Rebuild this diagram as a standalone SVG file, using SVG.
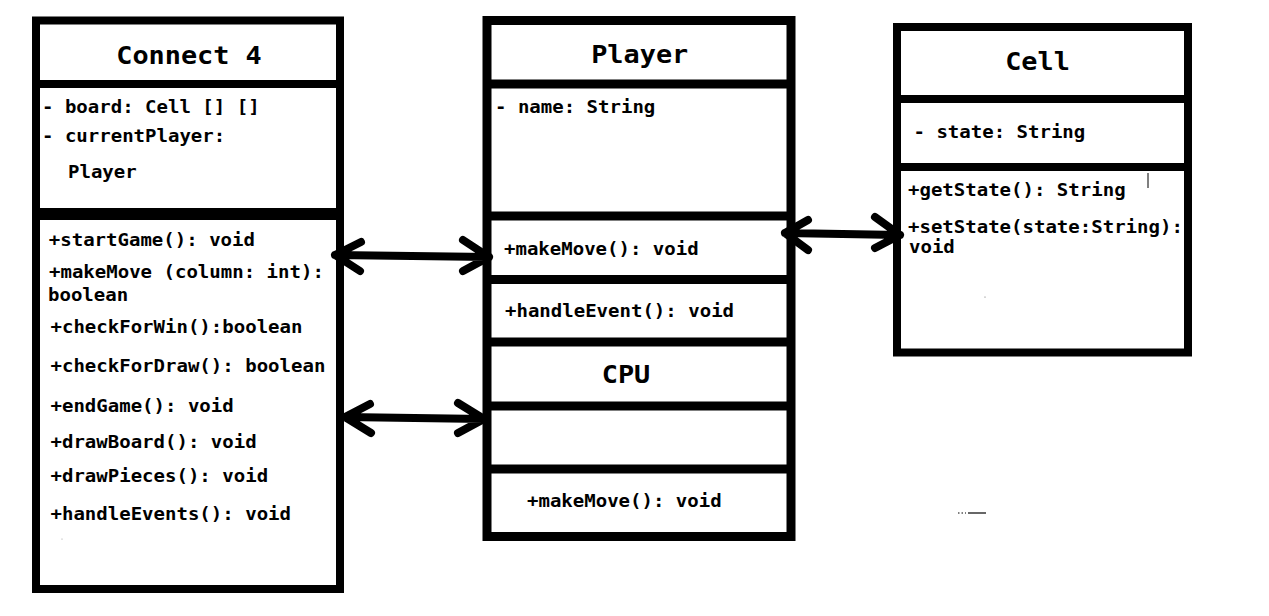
<svg xmlns="http://www.w3.org/2000/svg" width="1269" height="616" viewBox="0 0 1269 616">
<style>
.box{fill:#fff;stroke:#000;stroke-width:8}
.div{stroke:#000;stroke-width:9}
.t{font-family:"DejaVu Sans Mono","Liberation Mono",monospace;font-weight:bold;font-size:17px;fill:#000}
.h{font-family:"DejaVu Sans Mono","Liberation Mono",monospace;font-weight:bold;font-size:24px;fill:#000;text-anchor:middle}
.c{fill:none;stroke:#000;stroke-width:8;stroke-linecap:round;stroke-linejoin:round}
</style>
<rect width="1269" height="616" fill="#fff"/>
<g id="connect4">
<rect class="box" x="36" y="20.5" width="304" height="568.5"/>
<line class="div" x1="36" y1="84" x2="340" y2="84" style="stroke-width:8"/>
<line class="div" x1="36" y1="214" x2="340" y2="214" style="stroke-width:12"/>
<text class="h" transform="matrix(1.12 0 0 1 189 64)">Connect 4</text>
<text class="t" transform="matrix(1.12 0 0 1 42 113)">- board: Cell [] []</text>
<text class="t" transform="matrix(1.12 0 0 1 42 142)">- currentPlayer:</text>
<text class="t" transform="matrix(1.12 0 0 1 68 178)">Player</text>
<text class="t" transform="matrix(1.12 0 0 1 48.8 246)">+startGame(): void</text>
<text class="t" transform="matrix(1.12 0 0 1 49 278)">+makeMove (column: int):</text>
<text class="t" transform="matrix(1.12 0 0 1 48 301)">boolean</text>
<text class="t" transform="matrix(1.12 0 0 1 50.5 333)">+checkForWin():boolean</text>
<text class="t" transform="matrix(1.12 0 0 1 50.5 372)">+checkForDraw(): boolean</text>
<text class="t" transform="matrix(1.12 0 0 1 50.5 412)">+endGame(): void</text>
<text class="t" transform="matrix(1.12 0 0 1 50.5 448)">+drawBoard(): void</text>
<text class="t" transform="matrix(1.12 0 0 1 50.5 482)">+drawPieces(): void</text>
<text class="t" transform="matrix(1.12 0 0 1 50.5 520)">+handleEvents(): void</text>
<circle cx="62" cy="539" r="0.6" fill="#999"/>
</g>
<g id="player">
<rect class="box" x="487" y="20.5" width="304" height="516" style="stroke-width:9"/>
<line class="div" x1="487" y1="84" x2="791" y2="84"/>
<line class="div" x1="487" y1="216" x2="791" y2="216"/>
<line class="div" x1="487" y1="279.5" x2="791" y2="279.5"/>
<line class="div" x1="487" y1="342" x2="791" y2="342"/>
<text class="h" transform="matrix(1.12 0 0 1 639.7 63)">Player</text>
<text class="t" transform="matrix(1.12 0 0 1 495 113)">- name: String</text>
<text class="t" transform="matrix(1.12 0 0 1 504 255)">+makeMove(): void</text>
<text class="t" transform="matrix(1.12 0 0 1 505 317)">+handleEvent(): void</text>
</g>
<g id="cpu">
<line class="div" x1="487" y1="406" x2="791" y2="406"/>
<line class="div" x1="487" y1="469" x2="791" y2="469"/>
<text class="h" transform="matrix(1.12 0 0 1 626 383)">CPU</text>
<text class="t" transform="matrix(1.12 0 0 1 527 507)">+makeMove(): void</text>
</g>
<g id="cell">
<rect class="box" x="897" y="27" width="291" height="325.5"/>
<line class="div" x1="897" y1="99" x2="1188" y2="99" style="stroke-width:8"/>
<line class="div" x1="897" y1="167" x2="1188" y2="167" style="stroke-width:8"/>
<text class="h" transform="matrix(1.12 0 0 1 1037.5 70)">Cell</text>
<text class="t" transform="matrix(1.12 0 0 1 913.5 138)">- state: String</text>
<text class="t" transform="matrix(1.12 0 0 1 908 196)">+getState(): String</text>
<text class="t" transform="matrix(1.12 0 0 1 908 233)">+setState(state:String):</text>
<text class="t" transform="matrix(1.12 0 0 1 909 253)">void</text>
<line x1="1148" y1="173" x2="1148" y2="188" stroke="#000" stroke-width="1"/>
<circle cx="985" cy="297" r="0.6" fill="#666"/>
</g>
<g id="connectors">
<path class="c" d="M335 255 L489 257 M361 242 L335 255 L360 271 M463 240 L489 257 L463 271"/>
<path class="c" d="M345 417 L484 419 M370 404 L345 417 L371 433 M458 403 L484 419 L458 433"/>
<path class="c" d="M785 233 L900 235 M808 220 L785 233 L808 250 M875 217 L900 235 L875 248"/>
</g>
<g id="marks">
<line x1="968" y1="513" x2="986" y2="513" stroke="#000" stroke-width="1.2"/>
<line x1="958" y1="513" x2="966" y2="513" stroke="#000" stroke-width="1" stroke-dasharray="1.5 2"/>
</g>
</svg>
